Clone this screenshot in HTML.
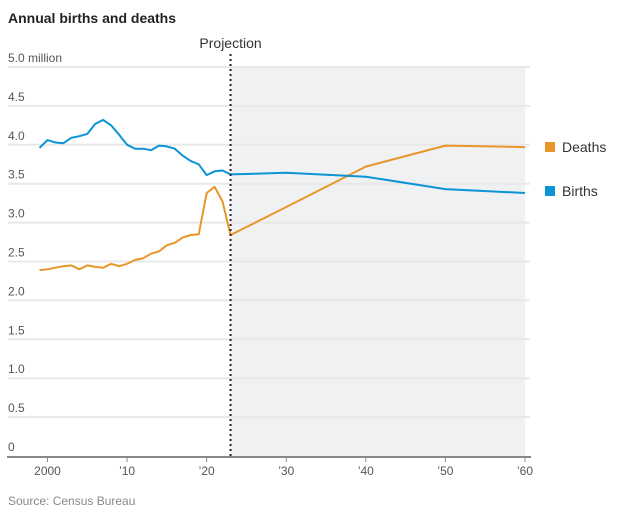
<!DOCTYPE html>
<html><head><meta charset="utf-8"><style>
body{margin:0;background:#fff;font-family:"Liberation Sans",sans-serif;}
svg text{font-family:"Liberation Sans",sans-serif;}
</style></head><body>
<svg width="626" height="513">
<text x="8" y="23" font-size="14" font-weight="bold" fill="#222">Annual births and deaths</text>
<g id="grid"></g>
<g id="plot"></g>
<g id="xaxis"></g>
<g>
<rect x="545" y="142" width="10" height="10" fill="#e8962a"/>
<text x="562" y="152" font-size="14" fill="#333">Deaths</text>
<rect x="545" y="186" width="10" height="10" fill="#0c93d6"/>
<text x="562" y="196" font-size="14" fill="#333">Births</text>
</g>
<text x="8" y="505" font-size="12" fill="#888">Source: Census Bureau</text>
</svg>
<script>
const years=[1999,2000,2001,2002,2003,2004,2005,2006,2007,2008,2009,2010,2011,2012,2013,2014,2015,2016,2017,2018,2019,2020,2021,2022,2023,2030,2040,2050,2060];
const births=[3.96,4.06,4.03,4.02,4.09,4.11,4.14,4.27,4.32,4.25,4.13,4.00,3.95,3.95,3.93,3.99,3.98,3.95,3.86,3.79,3.75,3.61,3.66,3.67,3.62,3.64,3.59,3.43,3.38];
const deaths=[2.39,2.40,2.42,2.44,2.45,2.40,2.45,2.43,2.42,2.47,2.44,2.47,2.52,2.54,2.60,2.63,2.71,2.74,2.81,2.84,2.85,3.38,3.46,3.27,2.84,3.20,3.72,3.99,3.97];
const yTicks=[0,0.5,1.0,1.5,2.0,2.5,3.0,3.5,4.0,4.5,5.0];
const yLabels=["0","0.5","1.0","1.5","2.0","2.5","3.0","3.5","4.0","4.5","5.0 million"];
const xTicks=[2000,2010,2020,2030,2040,2050,2060];
const xLabels=["2000","\u201910","\u201920","\u201930","\u201940","\u201950","\u201960"];
const projStart=2023;
const NS="http://www.w3.org/2000/svg";
const X=y=>47.5+(y-2000)*(525-47.5)/60;
const Y=v=>456-v*(456-67)/5;
function mk(t,a,p){const e=document.createElementNS(NS,t);for(const k in a)e.setAttribute(k,a[k]);p.appendChild(e);return e;}
const grid=document.getElementById('grid'),plot=document.getElementById('plot'),xa=document.getElementById('xaxis');
const sh=mk('rect',{x:X(projStart),y:Y(5),width:X(2060)-X(projStart),height:Y(0)-Y(5),fill:'#f0f1f3'},grid);


yTicks.forEach((v,i)=>{
 if(v>0){const l=mk('line',{x1:8,x2:530,y1:Y(v),y2:Y(v),stroke:'#e8e8e8','stroke-width':2},grid);
 
 }
 const t=mk('text',{x:8,y:Y(v)-5,'font-size':12,fill:'#555'},grid);t.textContent=yLabels[i];
 
 
});
function line(vals,col,name){
 const d=vals.map((v,i)=>(i?'L':'M')+X(years[i]).toFixed(1)+','+Y(v).toFixed(1)).join('');
 const p=mk('path',{d:d,fill:'none',stroke:col,'stroke-width':2,'stroke-linejoin':'round'},plot);
 
 
}
line(deaths,'#e8962a','deaths-line');
line(births,'#0c93d6','births-line');
const pl=mk('line',{x1:X(projStart),x2:X(projStart),y1:54,y2:Y(0),stroke:'#222','stroke-width':2,'stroke-dasharray':'2,3'},plot);


const pt=mk('text',{x:X(projStart),y:48,'font-size':14,fill:'#333','text-anchor':'middle'},plot);pt.textContent='Projection';


const ax=mk('line',{x1:7,x2:531,y1:Y(0)+1,y2:Y(0)+1,stroke:'#888','stroke-width':2},xa);


xTicks.forEach((v,i)=>{
 mk('line',{x1:X(v),x2:X(v),y1:Y(0)+1,y2:Y(0)+6,stroke:'#888','stroke-width':1},xa);
 const t=mk('text',{x:X(v),y:Y(0)+19,'font-size':12,fill:'#555','text-anchor':'middle'},xa);t.textContent=xLabels[i];
 
 
});
</script>
</body></html>
